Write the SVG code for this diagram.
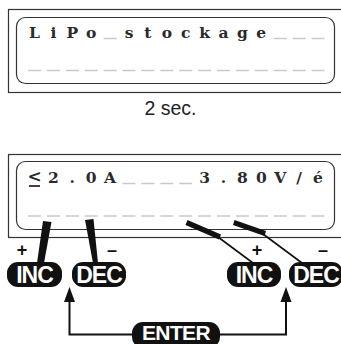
<svg xmlns="http://www.w3.org/2000/svg" width="341" height="344" viewBox="0 0 341 344">
<style>
.outer{fill:none;stroke:#333;stroke-width:1.2}
.inner{fill:none;stroke:#333;stroke-width:1.2}
.dash{stroke:#c9c9c9;stroke-width:1.4}
.lcd{font-family:"DejaVu Serif","Liberation Mono",serif;font-weight:bold;font-size:15.5px;fill:#2a2a2a;text-anchor:middle}
.cap{font-family:"Liberation Sans",Arial,sans-serif;font-size:19.5px;fill:#222;text-anchor:middle}
.btn{fill:#111}
.btxt{font-family:"Liberation Sans",Arial,sans-serif;font-weight:bold;font-size:23px;fill:#fff;text-anchor:middle;letter-spacing:-1px}
.sign{font-family:"Liberation Sans",Arial,sans-serif;font-weight:bold;font-size:18px;fill:#111;text-anchor:middle}
.ptr{fill:#111}
.thin{stroke:#111;stroke-width:1.6;fill:none}
.conn{stroke:#111;stroke-width:2;fill:none}
</style>
<defs>
<path id="dashes16" d="M28 0h13M46.9 0h13M65.8 0h13M84.7 0h13M103.6 0h13M122.5 0h13M141.4 0h13M160.3 0h13M179.2 0h13M198.1 0h13M217 0h13M235.9 0h13M254.8 0h13M273.7 0h13M292.6 0h13M311.5 0h13"/>
</defs>
<g id="display-top">
<rect class="outer" x="8.5" y="9.5" width="340" height="83"/>
<rect class="inner" x="16.5" y="17.5" width="318" height="66" rx="9"/>
<path class="dash" d="M103.6 38.5h13M273.7 38.5h13M292.6 38.5h13M311.5 38.5h13"/>
<use href="#dashes16" class="dash" y="70.5"/>
<text class="lcd" x="34.5 53.4 72.3 91.2" y="38">LiPo</text>
<text class="lcd" x="129 147.9 166.8 185.7 204.6 223.5 242.4 261.3" y="38">stockage</text>
</g>
<g id="label-2sec">
<text class="cap" x="170.5" y="115">2 sec.</text>
</g>
<g id="display-bottom">
<rect class="outer" x="8.5" y="154.5" width="340" height="83"/>
<rect class="inner" x="16.5" y="161.5" width="318" height="68" rx="9"/>
<path class="dash" d="M122.5 183.5h13M141.4 183.5h13M160.3 183.5h13M179.2 183.5h13"/>
<use href="#dashes16" class="dash" y="216"/>
<text class="lcd" x="34.5" y="182" style="font-size:17px">&lt;</text>
<line x1="29" y1="186" x2="40" y2="186" stroke="#2a2a2a" stroke-width="1.8"/>
<text class="lcd" x="53.4 72.3 91.2 110.1" y="183">2.0A</text>
<text class="lcd" x="204.6 223.5 242.4 261.3 280.2 299.1 318" y="183">3.80V/é</text>
</g>
<g id="connectors">
<polygon class="ptr" points="43,221 51.5,222 44,263 37,263"/>
<polygon class="ptr" points="85,220 93.5,219 98,263 93,263"/>
<path class="ptr" d="M187.5 220 L221 234.5 L219 239.5 L185.5 225 Z"/>
<line class="thin" x1="218" y1="237" x2="253" y2="263"/>
<path class="ptr" d="M234.5 220 L266 231 L264.5 236 L233 225 Z"/>
<line class="thin" x1="263" y1="234" x2="302" y2="263"/>
<path class="conn" d="M133 334.5H69.5V300"/>
<polygon class="ptr" points="69.5,287 64,302 75,302"/>
<path class="conn" d="M219 334.5H286V300"/>
<polygon class="ptr" points="286,287 280.5,302 291.5,302"/>
</g>
<g id="inc-left">
<text class="sign" x="22" y="256">+</text>
<rect class="btn" x="7" y="262" width="55" height="25" rx="11"/>
<text class="btxt" x="34.5" y="282.5">INC</text>
</g>
<g id="dec-left">
<text class="sign" x="112" y="256">–</text>
<rect class="btn" x="72" y="262" width="54" height="25" rx="11"/>
<text class="btxt" x="99" y="282.5">DEC</text>
</g>
<g id="inc-right">
<text class="sign" x="257" y="256">+</text>
<rect class="btn" x="227" y="262" width="54" height="25" rx="11"/>
<text class="btxt" x="254" y="282.5">INC</text>
</g>
<g id="dec-right">
<text class="sign" x="323" y="256">–</text>
<rect class="btn" x="289" y="262" width="54" height="25" rx="11"/>
<text class="btxt" x="316" y="282.5">DEC</text>
</g>
<g id="enter">
<rect class="btn" x="132" y="322" width="88" height="26" rx="11"/>
<text class="btxt" x="176" y="340" style="font-size:21px;letter-spacing:-0.6px">ENTER</text>
</g>
</svg>
